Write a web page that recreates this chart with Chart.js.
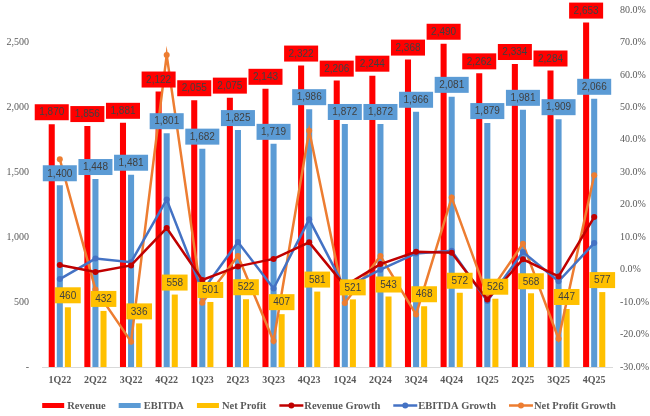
<!DOCTYPE html>
<html>
<head>
<meta charset="utf-8">
<script src="https://cdn.jsdelivr.net/npm/chart.js@4"></script>
<style>
  html, body { margin: 0; padding: 0; background: #ffffff; }
  #wrap { width: 650px; height: 416px; position: relative; }
</style>
</head>
<body>
<div id="wrap"><canvas id="chart"></canvas></div>
<script>
// Quarterly results (values in millions) and quarter-on-quarter growth (%)
const categories = ['1Q22','2Q22','3Q22','4Q22','1Q23','2Q23','3Q23','4Q23',
                    '1Q24','2Q24','3Q24','4Q24','1Q25','2Q25','3Q25','4Q25'];
const revenue   = [1870, 1856, 1881, 2122, 2055, 2075, 2143, 2322, 2206, 2244, 2368, 2490, 2262, 2334, 2284, 2653];
const ebitda    = [1400, 1448, 1481, 1801, 1682, 1825, 1719, 1986, 1872, 1872, 1966, 2081, 1879, 1981, 1909, 2066];
const netProfit = [460, 432, 336, 558, 501, 522, 407, 581, 521, 543, 468, 572, 526, 568, 447, 577];
const revenueGrowth   = [1.4, -0.7, 1.3, 12.8, -3.2, 1.0, 3.3, 8.4, -5.0, 1.7, 5.5, 5.2, -9.2, 3.2, -2.1, 16.2];
const ebitdaGrowth    = [-2.9, 3.4, 2.3, 21.6, -6.6, 8.5, -5.8, 15.5, -5.7, 0.0, 5.0, 5.8, -9.7, 5.4, -3.6, 8.2];
const netProfitGrowth = [34.0, -6.1, -22.2, 66.1, -10.2, 4.2, -22.0, 42.8, -10.3, 4.2, -13.8, 22.2, -8.0, 8.0, -21.3, 29.1];

// Axis tick values
const leftTickValues  = [0, 500, 1000, 1500, 2000, 2500];
const rightTickValues = [-30, -20, -10, 0, 10, 20, 30, 40, 50, 60, 70, 80];
const leftMax = 2750;

const SERIF = '"Liberation Serif", "Times New Roman", serif';
const SANS = '"Liberation Sans", Arial, sans-serif';
const AXIS_GRAY = '#595959';

// Value boxes above each bar, filled with the bar colour
const barValueBoxes = {
  id: 'barValueBoxes',
  afterDatasetsDraw(chart) {
    const ctx = chart.ctx;
    ctx.save();
    ctx.font = '10px ' + SANS;
    ctx.textAlign = 'center';
    ctx.textBaseline = 'middle';
    chart.data.datasets.forEach((ds, i) => {
      if (ds.type !== 'bar') return;
      const meta = chart.getDatasetMeta(i);
      meta.data.forEach((el, j) => {
        const txt = ds.data[j].toLocaleString('en-US');
        const w = ctx.measureText(txt).width + 9;
        const h = 16;
        const bottom = el.y - 4;
        ctx.fillStyle = ds.backgroundColor;
        ctx.fillRect(el.x - w / 2, bottom - h, w, h);
        ctx.fillStyle = '#404040';
        ctx.fillText(txt, el.x, bottom - h / 2 + 0.5);
      });
    });
    ctx.restore();
  }
};

// Single-row legend under the category labels
const bottomLegend = {
  id: 'bottomLegend',
  afterDraw(chart) {
    const ctx = chart.ctx;
    ctx.save();
    ctx.font = 'bold 10.5px ' + SERIF;
    ctx.textBaseline = 'middle';
    ctx.textAlign = 'left';
    const items = chart.data.datasets.map(ds => {
      const isBar = ds.type === 'bar';
      const sym = isBar ? 22 : 24;
      const gapIn = isBar ? 3 : 1;
      const tw = ctx.measureText(ds.label).width;
      return { ds, isBar, sym, gapIn, tw, w: sym + gapIn + tw };
    });
    const gapOut = 13;
    const total = items.reduce((s, it) => s + it.w, 0) + gapOut * (items.length - 1);
    const cx = (chart.chartArea.left + chart.chartArea.right) / 2 + 2;
    let x = cx - total / 2;
    const y = 405.5;
    items.forEach(it => {
      if (it.isBar) {
        ctx.fillStyle = it.ds.backgroundColor;
        ctx.fillRect(x, y - 2.5, it.sym, 5);
      } else {
        ctx.strokeStyle = it.ds.borderColor;
        ctx.lineWidth = 2.5;
        ctx.beginPath();
        ctx.moveTo(x, y);
        ctx.lineTo(x + it.sym, y);
        ctx.stroke();
        ctx.fillStyle = it.ds.borderColor;
        ctx.beginPath();
        ctx.arc(x + it.sym / 2, y, 3, 0, Math.PI * 2);
        ctx.fill();
      }
      ctx.fillStyle = AXIS_GRAY;
      ctx.fillText(it.ds.label, x + it.sym + it.gapIn, y + 0.5);
      x += it.w + gapOut;
    });
    ctx.restore();
  }
};

const barCommon = { type: 'bar', yAxisID: 'y', order: 1, categoryPercentage: 0.68, barPercentage: 0.75 };
const lineCommon = { type: 'line', yAxisID: 'y1', order: 0, borderWidth: 2.5, pointRadius: 3,
                     pointHoverRadius: 3, pointBorderWidth: 0, tension: 0, fill: false };

// Fixed side-axis width; keep the tick padding from pushing the plot area down
function fitSideAxis(width) {
  return scale => {
    scale.width = width;
    scale.paddingTop = 4;
    scale.paddingBottom = 4;
  };
}

new Chart(document.getElementById('chart'), {
  data: {
    labels: categories,
    datasets: [
      { ...barCommon, label: 'Revenue', data: revenue, backgroundColor: '#FF0000' },
      { ...barCommon, label: 'EBITDA', data: ebitda, backgroundColor: '#5B9BD5' },
      { ...barCommon, label: 'Net Profit', data: netProfit, backgroundColor: '#FFC000' },
      { ...lineCommon, label: 'Revenue Growth', data: revenueGrowth,
        borderColor: '#C00000', pointBackgroundColor: '#C00000' },
      { ...lineCommon, label: 'EBITDA Growth', data: ebitdaGrowth,
        borderColor: '#4472C4', pointBackgroundColor: '#4472C4' },
      { ...lineCommon, label: 'Net Profit Growth', data: netProfitGrowth,
        borderColor: '#ED7D31', pointBackgroundColor: '#ED7D31' }
    ]
  },
  options: {
    responsive: true,
    maintainAspectRatio: false,
    animation: false,
    layout: { padding: { top: 10, bottom: 27, left: 0, right: 0 } },
    plugins: {
      legend: { display: false },
      tooltip: { enabled: false }
    },
    scales: {
      x: {
        offset: true,
        grid: { display: false, drawTicks: false },
        border: { display: true, color: '#D9D9D9', width: 1 },
        ticks: { color: AXIS_GRAY, font: { family: SERIF, size: 10, weight: 'bold' },
                 padding: 7, maxRotation: 0, autoSkip: false },
        afterFit(scale) { scale.height = 22; }
      },
      y: {
        position: 'left',
        min: leftTickValues[0],
        max: leftMax,
        grid: { display: false, drawTicks: false },
        border: { display: false },
        afterBuildTicks(scale) { scale.ticks = leftTickValues.map(v => ({ value: v })); },
        ticks: {
          color: AXIS_GRAY,
          font: { family: SERIF, size: 10 },
          padding: 13,
          callback: v => v === 0 ? '-' : Number(v).toLocaleString('en-US')
        },
        afterFit: fitSideAxis(42)
      },
      y1: {
        position: 'right',
        min: rightTickValues[0],
        max: rightTickValues[rightTickValues.length - 1],
        grid: { display: false, drawTicks: false },
        border: { display: false },
        afterBuildTicks(scale) { scale.ticks = rightTickValues.map(v => ({ value: v })); },
        ticks: {
          color: AXIS_GRAY,
          font: { family: SERIF, size: 10 },
          padding: 8,
          callback: v => Number(v).toFixed(1) + '%'
        },
        afterFit: fitSideAxis(38)
      }
    }
  },
  plugins: [barValueBoxes, bottomLegend]
});
</script>
</body>
</html>
